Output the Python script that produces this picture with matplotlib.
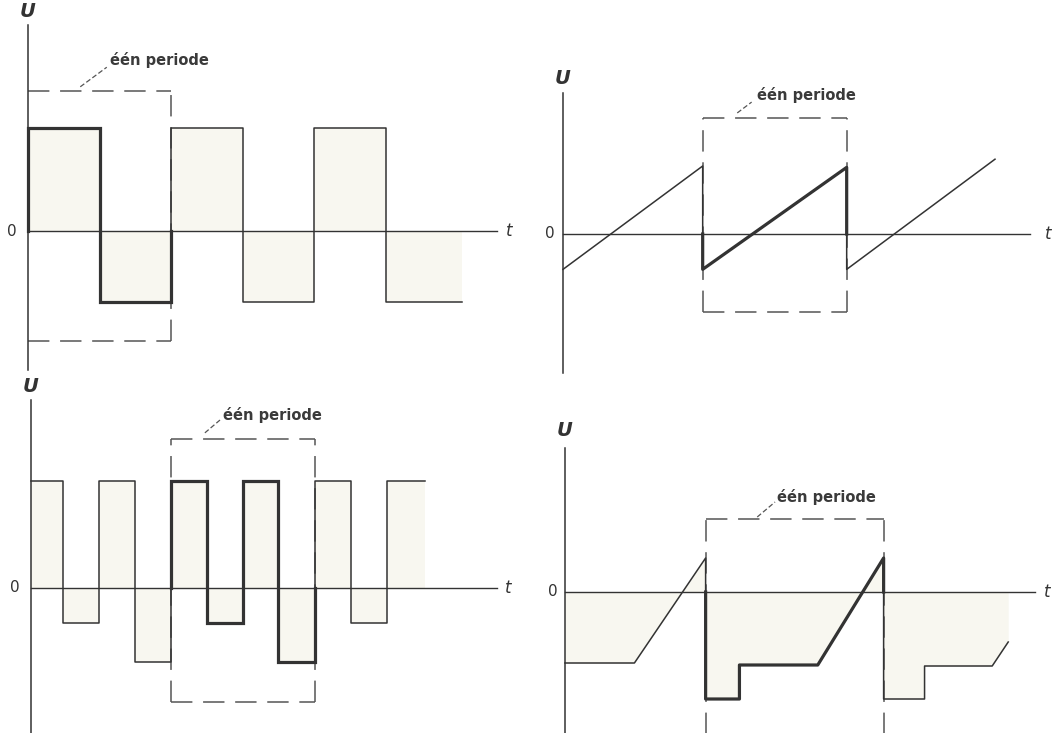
import matplotlib
matplotlib.use("Agg")
import matplotlib.pyplot as plt

W, H = 1059, 733
INK = "#333333"
FILL = "#f8f7f0"
LABEL = "één periode"

# ---- panel 1: square wave (top left)
sq1_t = [0, 1, 2, 3, 4, 5, 6.06]
sq1_u = [1.0, -0.69, 1.0, -0.69, 1.0, -0.69]
sq1_period = (0, 2)            # indices into sq1_t
sq1_box = (0, 2, -1.07, 1.36)
sq1_box_sides = "trb"

# ---- panel 2: sawtooth (top right)
saw_t = [0, 0.97, 0.97, 1.97, 1.97, 3.0]
saw_u = [-0.52, 1.0, -0.52, 0.98, -0.52, 1.10]
saw_period_t = [0.97, 0.97, 1.97, 1.97]
saw_period_u = [0, -0.52, 0.98, 0]
saw_box = (0.97, 1.97, -1.15, 1.71)

# ---- panel 3: square wave, two pulse heights (bottom left)
sq3_t = [0, 0.9, 1.9, 2.9, 3.9, 4.9, 5.9, 6.85, 7.9, 8.9, 9.9, 10.95]
sq3_u = [1.0, -0.33, 1.0, -0.69, 1.0, -0.33, 1.0, -0.69, 1.0, -0.33, 1.0]
sq3_period = (4, 8)
sq3_box = (3.9, 7.9, -1.07, 1.39)

# ---- panel 4: ramp + steps (bottom right)
mix_t = [0, 0.39, 0.79, 0.79, 0.98, 0.98, 1.42, 1.79, 1.79, 2.02, 2.02, 2.40, 2.49]
mix_u = [-0.71, -0.71, 0.34, -1.07, -1.07, -0.73, -0.73, 0.34, -1.07, -1.07, -0.74, -0.74, -0.50]
mix_period_t = [0.79, 0.79, 0.98, 0.98, 1.42, 1.79, 1.79]
mix_period_u = [0, -1.07, -1.07, -0.73, -0.73, 0.34, 0]
mix_box = (0.79, 1.79, -1.6, 0.73)


def steps(times, levels):
    xs, ys = [], []
    for i, lv in enumerate(levels):
        xs += [times[i], times[i + 1]]
        ys += [lv, lv]
    return xs, ys


def panel(fig, x0, y0, sx, sy):
    # full-figure axes; (x0, y0) is the pixel of the origin, sx/sy px per unit
    ax = fig.add_axes([0, 0, 1, 1])
    ax.set_xlim(-x0 / sx, (W - x0) / sx)
    ax.set_ylim((y0 - H) / sy, y0 / sy)
    ax.axis("off")
    ax.patch.set_alpha(0)
    return ax


def frame(ax, u_top, u_bot, t_end, u_lab, t_lab, zero_x):
    ax.plot([0, 0], [u_bot, u_top], color=INK, lw=1.1, zorder=2)
    ax.plot([0, t_end], [0, 0], color=INK, lw=1.0, zorder=2)
    ax.text(0, u_lab, "U", fontsize=14, fontweight="bold", style="italic",
            color=INK, ha="center", va="center")
    ax.text(t_lab, 0, "t", fontsize=12, style="italic", color=INK,
            ha="center", va="center")
    ax.text(zero_x, 0, "0", fontsize=11, color=INK, ha="center", va="center")


def box(ax, t0, t1, lo, hi, sides="ltrb"):
    kw = dict(color="#555555", lw=1.1, ls=(0, (14, 7)), zorder=1)
    if "t" in sides:
        ax.plot([t0, t1], [hi, hi], **kw)
    if "l" in sides:
        ax.plot([t0, t0], [lo, hi], **kw)
    if "r" in sides:
        ax.plot([t1, t1], [lo, hi], **kw)
    if "b" in sides:
        ax.plot([t0, t1], [lo, lo], **kw)


def label(ax, tx, ux, lead):
    ax.text(tx, ux, LABEL, fontsize=10.5, fontweight="bold", color="#3a3a3a",
            ha="left", va="center")
    ax.plot(lead[0], lead[1], color="#555555", lw=0.9, ls=(0, (4, 2)))


fig = plt.figure(figsize=(W / 100, H / 100), dpi=100)
fig.patch.set_facecolor("white")

# panel 1
ax = panel(fig, 28, 231, 71.6, 103)
xs, ys = steps(sq1_t, sq1_u)
ax.fill_between(xs, ys, 0, color=FILL, lw=0, zorder=0)
ax.plot(xs, ys, color=INK, lw=1.1, zorder=3)
a, b = sq1_period
px, py = steps(sq1_t[a:b + 1], sq1_u[a:b])
ax.plot([px[0]] + px + [px[-1]], [0] + py + [0], color=INK, lw=2.3, zorder=4,
        solid_joinstyle="miter")
box(ax, *sq1_box, sides=sq1_box_sides)
frame(ax, 2.0, -1.35, 6.55, 2.13, 6.72, -0.22)
label(ax, 1.15, 1.66, ([0.73, 1.10], [1.40, 1.59]))

# panel 2
ax = panel(fig, 563, 234, 144, 68)
ax.plot(saw_t, saw_u, color=INK, lw=1.1, zorder=3)
ax.plot(saw_period_t, saw_period_u, color=INK, lw=2.3, zorder=4)
box(ax, *saw_box)
frame(ax, 2.07, -2.04, 3.24, 2.29, 3.37, -0.09)
label(ax, 1.35, 2.04, ([1.21, 1.31], [1.78, 1.94]))

# panel 3
ax = panel(fig, 31, 588, 36, 107)
xs, ys = steps(sq3_t, sq3_u)
ax.fill_between(xs, ys, 0, color=FILL, lw=0, zorder=0)
ax.plot(xs, ys, color=INK, lw=1.1, zorder=3)
a, b = sq3_period
px, py = steps(sq3_t[a:b + 1], sq3_u[a:b])
ax.plot([px[0]] + px + [px[-1]], [0] + py + [0], color=INK, lw=2.3, zorder=4,
        solid_joinstyle="miter")
box(ax, *sq3_box)
frame(ax, 1.76, -1.40, 12.94, 1.88, 13.25, -0.44)
label(ax, 5.33, 1.62, ([4.83, 5.25], [1.45, 1.57]))

# panel 4
ax = panel(fig, 565, 592, 178, 100)
ax.fill_between(mix_t, mix_u, 0, color=FILL, lw=0, zorder=0)
ax.plot(mix_t, mix_u, color=INK, lw=1.1, zorder=3)
ax.plot(mix_period_t, mix_period_u, color=INK, lw=2.3, zorder=4)
box(ax, *mix_box, sides="tlr")
frame(ax, 1.44, -1.45, 2.64, 1.61, 2.71, -0.07)
label(ax, 1.19, 0.95, ([1.08, 1.18], [0.75, 0.90]))

fig.savefig("out.png", dpi=100, facecolor="white")
